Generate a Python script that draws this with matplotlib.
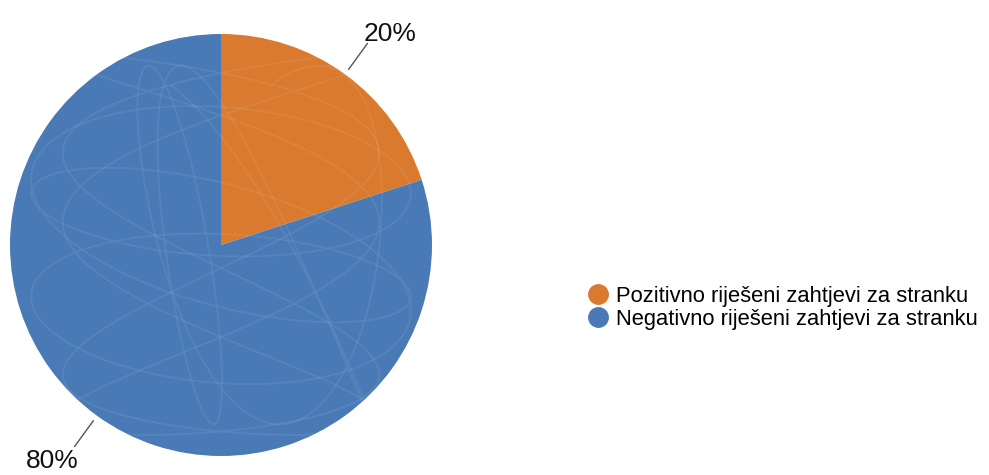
import numpy as np
import matplotlib.pyplot as plt
from matplotlib.lines import Line2D

plt.rcParams['font.family'] = ['Liberation Sans', 'DejaVu Sans']

# data
labels = ["Pozitivno riješeni zahtjevi za stranku",
          "Negativno riješeni zahtjevi za stranku"]
shares = [20, 80]
colors = ["#D97A2E", "#4A7AB5"]

W, H = 989, 475
fig = plt.figure(figsize=(W / 100, H / 100), dpi=100)

# pie axes: centre ~(221, 245) px, radius ~211 px
cx, cy, r = 221, 245, 211
ax = fig.add_axes([(cx - r) / W, (H - cy - r) / H, 2 * r / W, 2 * r / H])

wedges, _ = ax.pie(shares, colors=colors, startangle=90, counterclock=False,
                   radius=1, wedgeprops=dict(linewidth=0))
ax.set_xlim(-1, 1)
ax.set_ylim(-1, 1)
ax.set_aspect('equal')
ax.axis('off')

# faint scribble texture over the pie (decoration only)
circle = plt.Circle((0, 0), 1, transform=ax.transData)
s = np.linspace(0, 2 * np.pi, 1200)
scribbles = [
    (0.8 * np.sin(2 * s + 0.3) * np.cos(0.5 * s), 0.85 * np.sin(3 * s + 1.1)),
    (0.9 * np.cos(3 * s + 0.7), 0.7 * np.sin(2 * s) * np.cos(s + 0.4)),
    (0.75 * np.sin(5 * s + 0.2), 0.9 * np.cos(2 * s + 0.9)),
]
for x, y in scribbles:
    ln, = ax.plot(x, y, color="white", alpha=0.07, lw=1.3)
    ln.set_clip_path(circle)

# percentage labels with leader lines
for w, pct in zip(wedges, shares):
    mid = np.deg2rad((w.theta1 + w.theta2) / 2)
    dx, dy = np.cos(mid), np.sin(mid)
    ax.plot([1.03 * dx, 1.18 * dx], [1.03 * dy, 1.18 * dy],
            color="#555555", lw=1, clip_on=False)
    ax.text(1.36 * dx, 1.25 * dy, f"{pct}%", ha="center", va="center_baseline",
            fontsize=19, color="#111111", clip_on=False)

# legend
handles = [Line2D([], [], marker="o", ls="", ms=14, color=c) for c in colors]
fig.legend(handles, labels, loc="center left", bbox_to_anchor=(576 / W, 1 - 308 / H),
           frameon=False, fontsize=15.8, handletextpad=0.3, labelspacing=0.08,
           handlelength=1.0, borderpad=0)

fig.savefig("out.png", dpi=100)
